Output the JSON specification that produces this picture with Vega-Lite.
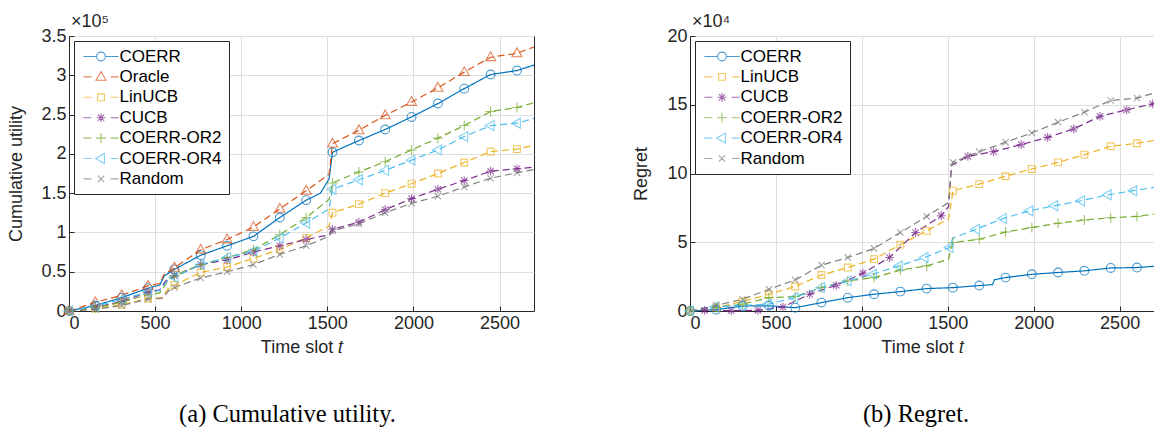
{
  "$schema": "https://vega.github.io/schema/vega-lite/v6.json",
  "padding": {"left": 6, "top": 12, "right": 0, "bottom": 0},
  "autosize": {"type": "pad"},
  "background": "white",
  "spacing": 156,
  "bounds": "flush",
  "resolve": {"scale": {"color": "independent", "shape": "independent", "strokeDash": "independent"}, "legend": {"color": "independent", "shape": "independent"}},
  "config": {
    "font": "Liberation Sans",
    "view": {"stroke": "#262626", "strokeWidth": 1},
    "axis": {
      "grid": true, "gridColor": "#dedede", "gridWidth": 1, "labelOverlap": false,
      "domainColor": "#262626", "tickColor": "#262626", "tickSize": -5,
      "labelFont": "Liberation Sans", "labelFontSize": 18, "labelColor": "#262626", "labelPadding": 8,
      "titleFont": "Liberation Sans", "titleFontSize": 18, "titleFontWeight": "normal", "titleColor": "#262626"
    },
    "legend": {
      "orient": "top-left", "offset": 5, "padding": 7, "rowPadding": 2.4,
      "fillColor": "white", "strokeColor": "#262626", "strokeWidth": 1, "cornerRadius": 0,
      "labelFont": "Liberation Sans", "labelFontSize": 17, "labelColor": "black",
      "symbolSize": 64, "symbolStrokeWidth": 1.1, "symbolOffset": 11.5, "labelOffset": 10
    }
  },
  "datasets": {
    "utility": [
      {"algorithm": "COERR", "t": 0, "value": 0}, {"algorithm": "COERR", "t": 153, "value": 0.07}, {"algorithm": "COERR", "t": 306, "value": 0.17}, {"algorithm": "COERR", "t": 459, "value": 0.29}, {"algorithm": "COERR", "t": 527, "value": 0.33}, {"algorithm": "COERR", "t": 553, "value": 0.445}, {"algorithm": "COERR", "t": 612, "value": 0.53}, {"algorithm": "COERR", "t": 765, "value": 0.71}, {"algorithm": "COERR", "t": 918, "value": 0.83}, {"algorithm": "COERR", "t": 1071, "value": 0.95}, {"algorithm": "COERR", "t": 1224, "value": 1.19}, {"algorithm": "COERR", "t": 1377, "value": 1.41}, {"algorithm": "COERR", "t": 1460, "value": 1.5}, {"algorithm": "COERR", "t": 1510, "value": 1.68}, {"algorithm": "COERR", "t": 1530, "value": 2.02}, {"algorithm": "COERR", "t": 1683, "value": 2.17}, {"algorithm": "COERR", "t": 1836, "value": 2.31}, {"algorithm": "COERR", "t": 1989, "value": 2.47}, {"algorithm": "COERR", "t": 2142, "value": 2.64}, {"algorithm": "COERR", "t": 2295, "value": 2.83}, {"algorithm": "COERR", "t": 2448, "value": 3.01}, {"algorithm": "COERR", "t": 2601, "value": 3.06}, {"algorithm": "COERR", "t": 2700, "value": 3.13},
      {"algorithm": "Oracle", "t": 0, "value": 0}, {"algorithm": "Oracle", "t": 153, "value": 0.11}, {"algorithm": "Oracle", "t": 306, "value": 0.2}, {"algorithm": "Oracle", "t": 459, "value": 0.32}, {"algorithm": "Oracle", "t": 527, "value": 0.35}, {"algorithm": "Oracle", "t": 553, "value": 0.47}, {"algorithm": "Oracle", "t": 612, "value": 0.55}, {"algorithm": "Oracle", "t": 765, "value": 0.78}, {"algorithm": "Oracle", "t": 918, "value": 0.91}, {"algorithm": "Oracle", "t": 1071, "value": 1.07}, {"algorithm": "Oracle", "t": 1224, "value": 1.3}, {"algorithm": "Oracle", "t": 1377, "value": 1.53}, {"algorithm": "Oracle", "t": 1510, "value": 1.74}, {"algorithm": "Oracle", "t": 1530, "value": 2.13}, {"algorithm": "Oracle", "t": 1683, "value": 2.3}, {"algorithm": "Oracle", "t": 1836, "value": 2.49}, {"algorithm": "Oracle", "t": 1989, "value": 2.66}, {"algorithm": "Oracle", "t": 2142, "value": 2.84}, {"algorithm": "Oracle", "t": 2295, "value": 3.04}, {"algorithm": "Oracle", "t": 2448, "value": 3.23}, {"algorithm": "Oracle", "t": 2601, "value": 3.28}, {"algorithm": "Oracle", "t": 2700, "value": 3.36},
      {"algorithm": "LinUCB", "t": 0, "value": 0}, {"algorithm": "LinUCB", "t": 153, "value": 0.03}, {"algorithm": "LinUCB", "t": 306, "value": 0.08}, {"algorithm": "LinUCB", "t": 459, "value": 0.16}, {"algorithm": "LinUCB", "t": 540, "value": 0.17}, {"algorithm": "LinUCB", "t": 575, "value": 0.28}, {"algorithm": "LinUCB", "t": 612, "value": 0.33}, {"algorithm": "LinUCB", "t": 765, "value": 0.49}, {"algorithm": "LinUCB", "t": 918, "value": 0.56}, {"algorithm": "LinUCB", "t": 1071, "value": 0.67}, {"algorithm": "LinUCB", "t": 1224, "value": 0.785}, {"algorithm": "LinUCB", "t": 1377, "value": 0.93}, {"algorithm": "LinUCB", "t": 1510, "value": 1.08}, {"algorithm": "LinUCB", "t": 1530, "value": 1.25}, {"algorithm": "LinUCB", "t": 1683, "value": 1.36}, {"algorithm": "LinUCB", "t": 1836, "value": 1.5}, {"algorithm": "LinUCB", "t": 1989, "value": 1.62}, {"algorithm": "LinUCB", "t": 2142, "value": 1.75}, {"algorithm": "LinUCB", "t": 2295, "value": 1.89}, {"algorithm": "LinUCB", "t": 2448, "value": 2.03}, {"algorithm": "LinUCB", "t": 2601, "value": 2.06}, {"algorithm": "LinUCB", "t": 2700, "value": 2.11},
      {"algorithm": "CUCB", "t": 0, "value": 0}, {"algorithm": "CUCB", "t": 153, "value": 0.05}, {"algorithm": "CUCB", "t": 306, "value": 0.12}, {"algorithm": "CUCB", "t": 459, "value": 0.24}, {"algorithm": "CUCB", "t": 527, "value": 0.27}, {"algorithm": "CUCB", "t": 560, "value": 0.38}, {"algorithm": "CUCB", "t": 612, "value": 0.45}, {"algorithm": "CUCB", "t": 765, "value": 0.59}, {"algorithm": "CUCB", "t": 918, "value": 0.65}, {"algorithm": "CUCB", "t": 1071, "value": 0.75}, {"algorithm": "CUCB", "t": 1224, "value": 0.83}, {"algorithm": "CUCB", "t": 1377, "value": 0.91}, {"algorithm": "CUCB", "t": 1510, "value": 0.97}, {"algorithm": "CUCB", "t": 1530, "value": 1.04}, {"algorithm": "CUCB", "t": 1683, "value": 1.13}, {"algorithm": "CUCB", "t": 1836, "value": 1.29}, {"algorithm": "CUCB", "t": 1989, "value": 1.43}, {"algorithm": "CUCB", "t": 2142, "value": 1.55}, {"algorithm": "CUCB", "t": 2295, "value": 1.66}, {"algorithm": "CUCB", "t": 2448, "value": 1.78}, {"algorithm": "CUCB", "t": 2601, "value": 1.81}, {"algorithm": "CUCB", "t": 2700, "value": 1.83},
      {"algorithm": "COERR-OR2", "t": 0, "value": 0}, {"algorithm": "COERR-OR2", "t": 153, "value": 0.04}, {"algorithm": "COERR-OR2", "t": 306, "value": 0.11}, {"algorithm": "COERR-OR2", "t": 459, "value": 0.21}, {"algorithm": "COERR-OR2", "t": 527, "value": 0.23}, {"algorithm": "COERR-OR2", "t": 580, "value": 0.4}, {"algorithm": "COERR-OR2", "t": 612, "value": 0.45}, {"algorithm": "COERR-OR2", "t": 765, "value": 0.59}, {"algorithm": "COERR-OR2", "t": 918, "value": 0.68}, {"algorithm": "COERR-OR2", "t": 1071, "value": 0.78}, {"algorithm": "COERR-OR2", "t": 1224, "value": 0.97}, {"algorithm": "COERR-OR2", "t": 1377, "value": 1.19}, {"algorithm": "COERR-OR2", "t": 1510, "value": 1.42}, {"algorithm": "COERR-OR2", "t": 1530, "value": 1.63}, {"algorithm": "COERR-OR2", "t": 1683, "value": 1.77}, {"algorithm": "COERR-OR2", "t": 1836, "value": 1.9}, {"algorithm": "COERR-OR2", "t": 1989, "value": 2.05}, {"algorithm": "COERR-OR2", "t": 2142, "value": 2.2}, {"algorithm": "COERR-OR2", "t": 2295, "value": 2.36}, {"algorithm": "COERR-OR2", "t": 2448, "value": 2.54}, {"algorithm": "COERR-OR2", "t": 2601, "value": 2.59}, {"algorithm": "COERR-OR2", "t": 2700, "value": 2.65},
      {"algorithm": "COERR-OR4", "t": 0, "value": 0}, {"algorithm": "COERR-OR4", "t": 153, "value": 0.06}, {"algorithm": "COERR-OR4", "t": 306, "value": 0.15}, {"algorithm": "COERR-OR4", "t": 459, "value": 0.24}, {"algorithm": "COERR-OR4", "t": 527, "value": 0.26}, {"algorithm": "COERR-OR4", "t": 570, "value": 0.38}, {"algorithm": "COERR-OR4", "t": 612, "value": 0.43}, {"algorithm": "COERR-OR4", "t": 765, "value": 0.59}, {"algorithm": "COERR-OR4", "t": 918, "value": 0.68}, {"algorithm": "COERR-OR4", "t": 1071, "value": 0.76}, {"algorithm": "COERR-OR4", "t": 1224, "value": 0.93}, {"algorithm": "COERR-OR4", "t": 1377, "value": 1.12}, {"algorithm": "COERR-OR4", "t": 1510, "value": 1.3}, {"algorithm": "COERR-OR4", "t": 1530, "value": 1.55}, {"algorithm": "COERR-OR4", "t": 1683, "value": 1.67}, {"algorithm": "COERR-OR4", "t": 1836, "value": 1.79}, {"algorithm": "COERR-OR4", "t": 1989, "value": 1.92}, {"algorithm": "COERR-OR4", "t": 2142, "value": 2.05}, {"algorithm": "COERR-OR4", "t": 2295, "value": 2.22}, {"algorithm": "COERR-OR4", "t": 2448, "value": 2.36}, {"algorithm": "COERR-OR4", "t": 2601, "value": 2.39}, {"algorithm": "COERR-OR4", "t": 2700, "value": 2.45},
      {"algorithm": "Random", "t": 0, "value": 0}, {"algorithm": "Random", "t": 153, "value": 0.02}, {"algorithm": "Random", "t": 306, "value": 0.07}, {"algorithm": "Random", "t": 459, "value": 0.15}, {"algorithm": "Random", "t": 540, "value": 0.16}, {"algorithm": "Random", "t": 580, "value": 0.26}, {"algorithm": "Random", "t": 612, "value": 0.3}, {"algorithm": "Random", "t": 765, "value": 0.42}, {"algorithm": "Random", "t": 918, "value": 0.5}, {"algorithm": "Random", "t": 1071, "value": 0.59}, {"algorithm": "Random", "t": 1224, "value": 0.72}, {"algorithm": "Random", "t": 1377, "value": 0.83}, {"algorithm": "Random", "t": 1510, "value": 0.95}, {"algorithm": "Random", "t": 1530, "value": 1.02}, {"algorithm": "Random", "t": 1683, "value": 1.11}, {"algorithm": "Random", "t": 1836, "value": 1.25}, {"algorithm": "Random", "t": 1989, "value": 1.37}, {"algorithm": "Random", "t": 2142, "value": 1.46}, {"algorithm": "Random", "t": 2295, "value": 1.58}, {"algorithm": "Random", "t": 2448, "value": 1.69}, {"algorithm": "Random", "t": 2601, "value": 1.76}, {"algorithm": "Random", "t": 2700, "value": 1.8}
    ],
    "utilityMarkers": [
      {"algorithm": "COERR", "t": 0, "value": 0}, {"algorithm": "COERR", "t": 153, "value": 0.07}, {"algorithm": "COERR", "t": 306, "value": 0.17}, {"algorithm": "COERR", "t": 459, "value": 0.29}, {"algorithm": "COERR", "t": 612, "value": 0.53}, {"algorithm": "COERR", "t": 765, "value": 0.71}, {"algorithm": "COERR", "t": 918, "value": 0.83}, {"algorithm": "COERR", "t": 1071, "value": 0.95}, {"algorithm": "COERR", "t": 1224, "value": 1.19}, {"algorithm": "COERR", "t": 1377, "value": 1.41}, {"algorithm": "COERR", "t": 1530, "value": 2.02}, {"algorithm": "COERR", "t": 1683, "value": 2.17}, {"algorithm": "COERR", "t": 1836, "value": 2.31}, {"algorithm": "COERR", "t": 1989, "value": 2.47}, {"algorithm": "COERR", "t": 2142, "value": 2.64}, {"algorithm": "COERR", "t": 2295, "value": 2.83}, {"algorithm": "COERR", "t": 2448, "value": 3.01}, {"algorithm": "COERR", "t": 2601, "value": 3.06},
      {"algorithm": "Oracle", "t": 0, "value": 0}, {"algorithm": "Oracle", "t": 153, "value": 0.11}, {"algorithm": "Oracle", "t": 306, "value": 0.2}, {"algorithm": "Oracle", "t": 459, "value": 0.32}, {"algorithm": "Oracle", "t": 612, "value": 0.55}, {"algorithm": "Oracle", "t": 765, "value": 0.78}, {"algorithm": "Oracle", "t": 918, "value": 0.91}, {"algorithm": "Oracle", "t": 1071, "value": 1.07}, {"algorithm": "Oracle", "t": 1224, "value": 1.3}, {"algorithm": "Oracle", "t": 1377, "value": 1.53}, {"algorithm": "Oracle", "t": 1530, "value": 2.13}, {"algorithm": "Oracle", "t": 1683, "value": 2.3}, {"algorithm": "Oracle", "t": 1836, "value": 2.49}, {"algorithm": "Oracle", "t": 1989, "value": 2.66}, {"algorithm": "Oracle", "t": 2142, "value": 2.84}, {"algorithm": "Oracle", "t": 2295, "value": 3.04}, {"algorithm": "Oracle", "t": 2448, "value": 3.23}, {"algorithm": "Oracle", "t": 2601, "value": 3.28},
      {"algorithm": "LinUCB", "t": 0, "value": 0}, {"algorithm": "LinUCB", "t": 153, "value": 0.03}, {"algorithm": "LinUCB", "t": 306, "value": 0.08}, {"algorithm": "LinUCB", "t": 459, "value": 0.16}, {"algorithm": "LinUCB", "t": 612, "value": 0.33}, {"algorithm": "LinUCB", "t": 765, "value": 0.49}, {"algorithm": "LinUCB", "t": 918, "value": 0.56}, {"algorithm": "LinUCB", "t": 1071, "value": 0.67}, {"algorithm": "LinUCB", "t": 1224, "value": 0.785}, {"algorithm": "LinUCB", "t": 1377, "value": 0.93}, {"algorithm": "LinUCB", "t": 1530, "value": 1.25}, {"algorithm": "LinUCB", "t": 1683, "value": 1.36}, {"algorithm": "LinUCB", "t": 1836, "value": 1.5}, {"algorithm": "LinUCB", "t": 1989, "value": 1.62}, {"algorithm": "LinUCB", "t": 2142, "value": 1.75}, {"algorithm": "LinUCB", "t": 2295, "value": 1.89}, {"algorithm": "LinUCB", "t": 2448, "value": 2.03}, {"algorithm": "LinUCB", "t": 2601, "value": 2.06},
      {"algorithm": "CUCB", "t": 0, "value": 0}, {"algorithm": "CUCB", "t": 153, "value": 0.05}, {"algorithm": "CUCB", "t": 306, "value": 0.12}, {"algorithm": "CUCB", "t": 459, "value": 0.24}, {"algorithm": "CUCB", "t": 612, "value": 0.45}, {"algorithm": "CUCB", "t": 765, "value": 0.59}, {"algorithm": "CUCB", "t": 918, "value": 0.65}, {"algorithm": "CUCB", "t": 1071, "value": 0.75}, {"algorithm": "CUCB", "t": 1224, "value": 0.83}, {"algorithm": "CUCB", "t": 1377, "value": 0.91}, {"algorithm": "CUCB", "t": 1530, "value": 1.04}, {"algorithm": "CUCB", "t": 1683, "value": 1.13}, {"algorithm": "CUCB", "t": 1836, "value": 1.29}, {"algorithm": "CUCB", "t": 1989, "value": 1.43}, {"algorithm": "CUCB", "t": 2142, "value": 1.55}, {"algorithm": "CUCB", "t": 2295, "value": 1.66}, {"algorithm": "CUCB", "t": 2448, "value": 1.78}, {"algorithm": "CUCB", "t": 2601, "value": 1.81},
      {"algorithm": "COERR-OR2", "t": 0, "value": 0}, {"algorithm": "COERR-OR2", "t": 153, "value": 0.04}, {"algorithm": "COERR-OR2", "t": 306, "value": 0.11}, {"algorithm": "COERR-OR2", "t": 459, "value": 0.21}, {"algorithm": "COERR-OR2", "t": 612, "value": 0.45}, {"algorithm": "COERR-OR2", "t": 765, "value": 0.59}, {"algorithm": "COERR-OR2", "t": 918, "value": 0.68}, {"algorithm": "COERR-OR2", "t": 1071, "value": 0.78}, {"algorithm": "COERR-OR2", "t": 1224, "value": 0.97}, {"algorithm": "COERR-OR2", "t": 1377, "value": 1.19}, {"algorithm": "COERR-OR2", "t": 1530, "value": 1.63}, {"algorithm": "COERR-OR2", "t": 1683, "value": 1.77}, {"algorithm": "COERR-OR2", "t": 1836, "value": 1.9}, {"algorithm": "COERR-OR2", "t": 1989, "value": 2.05}, {"algorithm": "COERR-OR2", "t": 2142, "value": 2.2}, {"algorithm": "COERR-OR2", "t": 2295, "value": 2.36}, {"algorithm": "COERR-OR2", "t": 2448, "value": 2.54}, {"algorithm": "COERR-OR2", "t": 2601, "value": 2.59},
      {"algorithm": "COERR-OR4", "t": 0, "value": 0}, {"algorithm": "COERR-OR4", "t": 153, "value": 0.06}, {"algorithm": "COERR-OR4", "t": 306, "value": 0.15}, {"algorithm": "COERR-OR4", "t": 459, "value": 0.24}, {"algorithm": "COERR-OR4", "t": 612, "value": 0.43}, {"algorithm": "COERR-OR4", "t": 765, "value": 0.59}, {"algorithm": "COERR-OR4", "t": 918, "value": 0.68}, {"algorithm": "COERR-OR4", "t": 1071, "value": 0.76}, {"algorithm": "COERR-OR4", "t": 1224, "value": 0.93}, {"algorithm": "COERR-OR4", "t": 1377, "value": 1.12}, {"algorithm": "COERR-OR4", "t": 1530, "value": 1.55}, {"algorithm": "COERR-OR4", "t": 1683, "value": 1.67}, {"algorithm": "COERR-OR4", "t": 1836, "value": 1.79}, {"algorithm": "COERR-OR4", "t": 1989, "value": 1.92}, {"algorithm": "COERR-OR4", "t": 2142, "value": 2.05}, {"algorithm": "COERR-OR4", "t": 2295, "value": 2.22}, {"algorithm": "COERR-OR4", "t": 2448, "value": 2.36}, {"algorithm": "COERR-OR4", "t": 2601, "value": 2.39},
      {"algorithm": "Random", "t": 0, "value": 0}, {"algorithm": "Random", "t": 153, "value": 0.02}, {"algorithm": "Random", "t": 306, "value": 0.07}, {"algorithm": "Random", "t": 459, "value": 0.15}, {"algorithm": "Random", "t": 612, "value": 0.3}, {"algorithm": "Random", "t": 765, "value": 0.42}, {"algorithm": "Random", "t": 918, "value": 0.5}, {"algorithm": "Random", "t": 1071, "value": 0.59}, {"algorithm": "Random", "t": 1224, "value": 0.72}, {"algorithm": "Random", "t": 1377, "value": 0.83}, {"algorithm": "Random", "t": 1530, "value": 1.02}, {"algorithm": "Random", "t": 1683, "value": 1.11}, {"algorithm": "Random", "t": 1836, "value": 1.25}, {"algorithm": "Random", "t": 1989, "value": 1.37}, {"algorithm": "Random", "t": 2142, "value": 1.46}, {"algorithm": "Random", "t": 2295, "value": 1.58}, {"algorithm": "Random", "t": 2448, "value": 1.69}, {"algorithm": "Random", "t": 2601, "value": 1.76}
    ],
    "regret": [
      {"algorithm": "COERR", "t": 0, "value": 0}, {"algorithm": "COERR", "t": 153, "value": 0.1}, {"algorithm": "COERR", "t": 306, "value": 0.36}, {"algorithm": "COERR", "t": 459, "value": 0.38}, {"algorithm": "COERR", "t": 612, "value": 0.24}, {"algorithm": "COERR", "t": 765, "value": 0.61}, {"algorithm": "COERR", "t": 918, "value": 0.97}, {"algorithm": "COERR", "t": 1071, "value": 1.22}, {"algorithm": "COERR", "t": 1224, "value": 1.41}, {"algorithm": "COERR", "t": 1377, "value": 1.63}, {"algorithm": "COERR", "t": 1530, "value": 1.7}, {"algorithm": "COERR", "t": 1683, "value": 1.85}, {"algorithm": "COERR", "t": 1760, "value": 1.92}, {"algorithm": "COERR", "t": 1772, "value": 2.28}, {"algorithm": "COERR", "t": 1836, "value": 2.43}, {"algorithm": "COERR", "t": 1989, "value": 2.67}, {"algorithm": "COERR", "t": 2142, "value": 2.8}, {"algorithm": "COERR", "t": 2295, "value": 2.92}, {"algorithm": "COERR", "t": 2448, "value": 3.13}, {"algorithm": "COERR", "t": 2601, "value": 3.16}, {"algorithm": "COERR", "t": 2700, "value": 3.25},
      {"algorithm": "LinUCB", "t": 0, "value": 0}, {"algorithm": "LinUCB", "t": 153, "value": 0.25}, {"algorithm": "LinUCB", "t": 306, "value": 0.7}, {"algorithm": "LinUCB", "t": 459, "value": 1.22}, {"algorithm": "LinUCB", "t": 612, "value": 1.78}, {"algorithm": "LinUCB", "t": 765, "value": 2.62}, {"algorithm": "LinUCB", "t": 918, "value": 3.16}, {"algorithm": "LinUCB", "t": 1071, "value": 3.77}, {"algorithm": "LinUCB", "t": 1224, "value": 4.83}, {"algorithm": "LinUCB", "t": 1377, "value": 5.83}, {"algorithm": "LinUCB", "t": 1505, "value": 6.7}, {"algorithm": "LinUCB", "t": 1520, "value": 7.9}, {"algorithm": "LinUCB", "t": 1530, "value": 8.75}, {"algorithm": "LinUCB", "t": 1683, "value": 9.23}, {"algorithm": "LinUCB", "t": 1836, "value": 9.8}, {"algorithm": "LinUCB", "t": 1989, "value": 10.33}, {"algorithm": "LinUCB", "t": 2142, "value": 10.81}, {"algorithm": "LinUCB", "t": 2295, "value": 11.37}, {"algorithm": "LinUCB", "t": 2448, "value": 11.98}, {"algorithm": "LinUCB", "t": 2601, "value": 12.2}, {"algorithm": "LinUCB", "t": 2700, "value": 12.4},
      {"algorithm": "CUCB", "t": 0, "value": 0}, {"algorithm": "CUCB", "t": 85, "value": 0.05}, {"algorithm": "CUCB", "t": 240, "value": 0.02}, {"algorithm": "CUCB", "t": 395, "value": 0.05}, {"algorithm": "CUCB", "t": 541, "value": 0.29}, {"algorithm": "CUCB", "t": 696, "value": 1.22}, {"algorithm": "CUCB", "t": 851, "value": 1.87}, {"algorithm": "CUCB", "t": 1006, "value": 2.75}, {"algorithm": "CUCB", "t": 1161, "value": 3.89}, {"algorithm": "CUCB", "t": 1313, "value": 5.71}, {"algorithm": "CUCB", "t": 1462, "value": 6.93}, {"algorithm": "CUCB", "t": 1505, "value": 7.6}, {"algorithm": "CUCB", "t": 1522, "value": 10.6}, {"algorithm": "CUCB", "t": 1617, "value": 11.25}, {"algorithm": "CUCB", "t": 1766, "value": 11.59}, {"algorithm": "CUCB", "t": 1927, "value": 12.1}, {"algorithm": "CUCB", "t": 2081, "value": 12.63}, {"algorithm": "CUCB", "t": 2233, "value": 13.24}, {"algorithm": "CUCB", "t": 2386, "value": 14.16}, {"algorithm": "CUCB", "t": 2541, "value": 14.63}, {"algorithm": "CUCB", "t": 2692, "value": 15.06}, {"algorithm": "CUCB", "t": 2700, "value": 15.08},
      {"algorithm": "COERR-OR2", "t": 0, "value": 0}, {"algorithm": "COERR-OR2", "t": 153, "value": 0.25}, {"algorithm": "COERR-OR2", "t": 306, "value": 0.5}, {"algorithm": "COERR-OR2", "t": 459, "value": 0.97}, {"algorithm": "COERR-OR2", "t": 612, "value": 1.05}, {"algorithm": "COERR-OR2", "t": 765, "value": 1.7}, {"algorithm": "COERR-OR2", "t": 918, "value": 2.19}, {"algorithm": "COERR-OR2", "t": 1071, "value": 2.43}, {"algorithm": "COERR-OR2", "t": 1224, "value": 2.97}, {"algorithm": "COERR-OR2", "t": 1377, "value": 3.28}, {"algorithm": "COERR-OR2", "t": 1505, "value": 3.77}, {"algorithm": "COERR-OR2", "t": 1520, "value": 4.6}, {"algorithm": "COERR-OR2", "t": 1530, "value": 4.98}, {"algorithm": "COERR-OR2", "t": 1683, "value": 5.22}, {"algorithm": "COERR-OR2", "t": 1836, "value": 5.74}, {"algorithm": "COERR-OR2", "t": 1989, "value": 6.07}, {"algorithm": "COERR-OR2", "t": 2142, "value": 6.38}, {"algorithm": "COERR-OR2", "t": 2295, "value": 6.62}, {"algorithm": "COERR-OR2", "t": 2448, "value": 6.78}, {"algorithm": "COERR-OR2", "t": 2601, "value": 6.88}, {"algorithm": "COERR-OR2", "t": 2700, "value": 7.05},
      {"algorithm": "COERR-OR4", "t": 0, "value": 0}, {"algorithm": "COERR-OR4", "t": 145, "value": 0.3}, {"algorithm": "COERR-OR4", "t": 299, "value": 0.41}, {"algorithm": "COERR-OR4", "t": 453, "value": 0.49}, {"algorithm": "COERR-OR4", "t": 608, "value": 0.97}, {"algorithm": "COERR-OR4", "t": 763, "value": 1.7}, {"algorithm": "COERR-OR4", "t": 918, "value": 2.19}, {"algorithm": "COERR-OR4", "t": 1065, "value": 2.68}, {"algorithm": "COERR-OR4", "t": 1215, "value": 3.28}, {"algorithm": "COERR-OR4", "t": 1365, "value": 3.89}, {"algorithm": "COERR-OR4", "t": 1510, "value": 4.62}, {"algorithm": "COERR-OR4", "t": 1528, "value": 5.3}, {"algorithm": "COERR-OR4", "t": 1665, "value": 5.95}, {"algorithm": "COERR-OR4", "t": 1820, "value": 6.72}, {"algorithm": "COERR-OR4", "t": 1975, "value": 7.29}, {"algorithm": "COERR-OR4", "t": 2120, "value": 7.65}, {"algorithm": "COERR-OR4", "t": 2276, "value": 8.02}, {"algorithm": "COERR-OR4", "t": 2431, "value": 8.45}, {"algorithm": "COERR-OR4", "t": 2580, "value": 8.75}, {"algorithm": "COERR-OR4", "t": 2700, "value": 8.99},
      {"algorithm": "Random", "t": 0, "value": 0}, {"algorithm": "Random", "t": 153, "value": 0.41}, {"algorithm": "Random", "t": 306, "value": 0.85}, {"algorithm": "Random", "t": 459, "value": 1.58}, {"algorithm": "Random", "t": 612, "value": 2.26}, {"algorithm": "Random", "t": 765, "value": 3.33}, {"algorithm": "Random", "t": 918, "value": 3.89}, {"algorithm": "Random", "t": 1071, "value": 4.55}, {"algorithm": "Random", "t": 1224, "value": 5.71}, {"algorithm": "Random", "t": 1377, "value": 6.88}, {"algorithm": "Random", "t": 1505, "value": 7.9}, {"algorithm": "Random", "t": 1520, "value": 10.4}, {"algorithm": "Random", "t": 1530, "value": 10.82}, {"algorithm": "Random", "t": 1683, "value": 11.59}, {"algorithm": "Random", "t": 1836, "value": 12.27}, {"algorithm": "Random", "t": 1989, "value": 12.95}, {"algorithm": "Random", "t": 2142, "value": 13.73}, {"algorithm": "Random", "t": 2295, "value": 14.46}, {"algorithm": "Random", "t": 2448, "value": 15.31}, {"algorithm": "Random", "t": 2601, "value": 15.48}, {"algorithm": "Random", "t": 2700, "value": 15.85}
    ],
    "regretMarkers": [
      {"algorithm": "COERR", "t": 0, "value": 0}, {"algorithm": "COERR", "t": 153, "value": 0.1}, {"algorithm": "COERR", "t": 306, "value": 0.36}, {"algorithm": "COERR", "t": 459, "value": 0.38}, {"algorithm": "COERR", "t": 612, "value": 0.24}, {"algorithm": "COERR", "t": 765, "value": 0.61}, {"algorithm": "COERR", "t": 918, "value": 0.97}, {"algorithm": "COERR", "t": 1071, "value": 1.22}, {"algorithm": "COERR", "t": 1224, "value": 1.41}, {"algorithm": "COERR", "t": 1377, "value": 1.63}, {"algorithm": "COERR", "t": 1530, "value": 1.7}, {"algorithm": "COERR", "t": 1683, "value": 1.85}, {"algorithm": "COERR", "t": 1836, "value": 2.43}, {"algorithm": "COERR", "t": 1989, "value": 2.67}, {"algorithm": "COERR", "t": 2142, "value": 2.8}, {"algorithm": "COERR", "t": 2295, "value": 2.92}, {"algorithm": "COERR", "t": 2448, "value": 3.13}, {"algorithm": "COERR", "t": 2601, "value": 3.16},
      {"algorithm": "LinUCB", "t": 0, "value": 0}, {"algorithm": "LinUCB", "t": 153, "value": 0.25}, {"algorithm": "LinUCB", "t": 306, "value": 0.7}, {"algorithm": "LinUCB", "t": 459, "value": 1.22}, {"algorithm": "LinUCB", "t": 612, "value": 1.78}, {"algorithm": "LinUCB", "t": 765, "value": 2.62}, {"algorithm": "LinUCB", "t": 918, "value": 3.16}, {"algorithm": "LinUCB", "t": 1071, "value": 3.77}, {"algorithm": "LinUCB", "t": 1224, "value": 4.83}, {"algorithm": "LinUCB", "t": 1377, "value": 5.83}, {"algorithm": "LinUCB", "t": 1530, "value": 8.75}, {"algorithm": "LinUCB", "t": 1683, "value": 9.23}, {"algorithm": "LinUCB", "t": 1836, "value": 9.8}, {"algorithm": "LinUCB", "t": 1989, "value": 10.33}, {"algorithm": "LinUCB", "t": 2142, "value": 10.81}, {"algorithm": "LinUCB", "t": 2295, "value": 11.37}, {"algorithm": "LinUCB", "t": 2448, "value": 11.98}, {"algorithm": "LinUCB", "t": 2601, "value": 12.2},
      {"algorithm": "CUCB", "t": 85, "value": 0.05}, {"algorithm": "CUCB", "t": 240, "value": 0.02}, {"algorithm": "CUCB", "t": 395, "value": 0.05}, {"algorithm": "CUCB", "t": 541, "value": 0.29}, {"algorithm": "CUCB", "t": 696, "value": 1.22}, {"algorithm": "CUCB", "t": 851, "value": 1.87}, {"algorithm": "CUCB", "t": 1006, "value": 2.75}, {"algorithm": "CUCB", "t": 1161, "value": 3.89}, {"algorithm": "CUCB", "t": 1313, "value": 5.71}, {"algorithm": "CUCB", "t": 1462, "value": 6.93}, {"algorithm": "CUCB", "t": 1617, "value": 11.25}, {"algorithm": "CUCB", "t": 1766, "value": 11.59}, {"algorithm": "CUCB", "t": 1927, "value": 12.1}, {"algorithm": "CUCB", "t": 2081, "value": 12.63}, {"algorithm": "CUCB", "t": 2233, "value": 13.24}, {"algorithm": "CUCB", "t": 2386, "value": 14.16}, {"algorithm": "CUCB", "t": 2541, "value": 14.63}, {"algorithm": "CUCB", "t": 2692, "value": 15.06},
      {"algorithm": "COERR-OR2", "t": 0, "value": 0}, {"algorithm": "COERR-OR2", "t": 153, "value": 0.25}, {"algorithm": "COERR-OR2", "t": 306, "value": 0.5}, {"algorithm": "COERR-OR2", "t": 459, "value": 0.97}, {"algorithm": "COERR-OR2", "t": 612, "value": 1.05}, {"algorithm": "COERR-OR2", "t": 765, "value": 1.7}, {"algorithm": "COERR-OR2", "t": 918, "value": 2.19}, {"algorithm": "COERR-OR2", "t": 1071, "value": 2.43}, {"algorithm": "COERR-OR2", "t": 1224, "value": 2.97}, {"algorithm": "COERR-OR2", "t": 1377, "value": 3.28}, {"algorithm": "COERR-OR2", "t": 1530, "value": 4.98}, {"algorithm": "COERR-OR2", "t": 1683, "value": 5.22}, {"algorithm": "COERR-OR2", "t": 1836, "value": 5.74}, {"algorithm": "COERR-OR2", "t": 1989, "value": 6.07}, {"algorithm": "COERR-OR2", "t": 2142, "value": 6.38}, {"algorithm": "COERR-OR2", "t": 2295, "value": 6.62}, {"algorithm": "COERR-OR2", "t": 2448, "value": 6.78}, {"algorithm": "COERR-OR2", "t": 2601, "value": 6.88},
      {"algorithm": "COERR-OR4", "t": 0, "value": 0}, {"algorithm": "COERR-OR4", "t": 145, "value": 0.3}, {"algorithm": "COERR-OR4", "t": 299, "value": 0.41}, {"algorithm": "COERR-OR4", "t": 453, "value": 0.49}, {"algorithm": "COERR-OR4", "t": 608, "value": 0.97}, {"algorithm": "COERR-OR4", "t": 763, "value": 1.7}, {"algorithm": "COERR-OR4", "t": 918, "value": 2.19}, {"algorithm": "COERR-OR4", "t": 1065, "value": 2.68}, {"algorithm": "COERR-OR4", "t": 1215, "value": 3.28}, {"algorithm": "COERR-OR4", "t": 1365, "value": 3.89}, {"algorithm": "COERR-OR4", "t": 1510, "value": 4.62}, {"algorithm": "COERR-OR4", "t": 1665, "value": 5.95}, {"algorithm": "COERR-OR4", "t": 1820, "value": 6.72}, {"algorithm": "COERR-OR4", "t": 1975, "value": 7.29}, {"algorithm": "COERR-OR4", "t": 2120, "value": 7.65}, {"algorithm": "COERR-OR4", "t": 2276, "value": 8.02}, {"algorithm": "COERR-OR4", "t": 2431, "value": 8.45}, {"algorithm": "COERR-OR4", "t": 2580, "value": 8.75},
      {"algorithm": "Random", "t": 0, "value": 0}, {"algorithm": "Random", "t": 153, "value": 0.41}, {"algorithm": "Random", "t": 306, "value": 0.85}, {"algorithm": "Random", "t": 459, "value": 1.58}, {"algorithm": "Random", "t": 612, "value": 2.26}, {"algorithm": "Random", "t": 765, "value": 3.33}, {"algorithm": "Random", "t": 918, "value": 3.89}, {"algorithm": "Random", "t": 1071, "value": 4.55}, {"algorithm": "Random", "t": 1224, "value": 5.71}, {"algorithm": "Random", "t": 1377, "value": 6.88}, {"algorithm": "Random", "t": 1530, "value": 10.82}, {"algorithm": "Random", "t": 1683, "value": 11.59}, {"algorithm": "Random", "t": 1836, "value": 12.27}, {"algorithm": "Random", "t": 1989, "value": 12.95}, {"algorithm": "Random", "t": 2142, "value": 13.73}, {"algorithm": "Random", "t": 2295, "value": 14.46}, {"algorithm": "Random", "t": 2448, "value": 15.31}, {"algorithm": "Random", "t": 2601, "value": 15.48}
    ]
  },
  "hconcat": [
    {
      "width": 465, "height": 275,
      "title": {"text": "(a) Cumulative utility.", "orient": "bottom", "anchor": "middle", "frame": "group", "dx": -14, "offset": 47, "font": "Liberation Serif", "fontSize": 24.5, "fontWeight": "normal", "color": "black"},
      "resolve": {"scale": {"shape": "independent", "color": "independent"}, "legend": {"shape": "independent", "color": "independent"}},
      "layer": [
        {
          "data": {"name": "utility"},
          "mark": {"type": "line", "strokeWidth": 1.2},
          "encoding": {
            "x": {"field": "t", "type": "quantitative", "scale": {"domain": [0, 2700], "nice": false}, "axis": {"title": "Time slot 𝑡", "values": [0, 500, 1000, 1500, 2000, 2500], "tickCount": 12, "format": "d", "titlePadding": 6}},
            "y": {"field": "value", "type": "quantitative", "scale": {"domain": [0, 3.5], "nice": false}, "axis": {"title": "Cumulative utility", "values": [0, 0.5, 1, 1.5, 2, 2.5, 3, 3.5], "tickCount": 12, "format": "~g", "titlePadding": 15.5}},
            "color": {"field": "algorithm", "type": "nominal", "sort": null, "legend": null,
              "scale": {"domain": ["COERR", "Oracle", "LinUCB", "CUCB", "COERR-OR2", "COERR-OR4", "Random"], "range": ["#0072BD", "#D95319", "#EDB120", "#7E2F8E", "#77AC30", "#4DBEEE", "#808080"]}},
            "strokeDash": {"field": "algorithm", "type": "nominal", "legend": null,
              "scale": {"domain": ["COERR", "Oracle", "LinUCB", "CUCB", "COERR-OR2", "COERR-OR4", "Random"], "range": [[1, 0], [7, 4], [7, 4], [7, 4], [7, 4], [7, 4], [7, 4]]}}
          }
        },
        {
          "data": {"name": "utilityMarkers"},
          "mark": {"type": "point", "filled": false, "size": 64, "strokeWidth": 1.1},
          "encoding": {
            "x": {"field": "t", "type": "quantitative"},
            "y": {"field": "value", "type": "quantitative"},
            "color": {"field": "algorithm", "type": "nominal", "sort": null, "legend": null,
              "scale": {"domain": ["COERR", "Oracle", "LinUCB", "CUCB", "COERR-OR2", "COERR-OR4", "Random"], "range": ["#0072BD", "#D95319", "#EDB120", "#7E2F8E", "#77AC30", "#4DBEEE", "#808080"]}},
            "shape": {"field": "algorithm", "type": "nominal", "legend": null,
              "scale": {"domain": ["COERR", "Oracle", "LinUCB", "CUCB", "COERR-OR2", "COERR-OR4", "Random"],
                "range": ["M1.1,0A1.1,1.1 0 1,1 -1.1,0A1.1,1.1 0 1,1 1.1,0Z", "M0,-1.35L1.25,0.85L-1.25,0.85Z", "M-0.85,-0.85L0.85,-0.85L0.85,0.85L-0.85,0.85Z", "M-1.1,0L1.1,0M0,-1.1L0,1.1M-0.8,-0.8L0.8,0.8M-0.8,0.8L0.8,-0.8", "M-1.25,0L1.25,0M0,-1.25L0,1.25", "M-1.35,0L0.85,-1.25L0.85,1.25Z", "M-0.8,-0.8L0.8,0.8M-0.8,0.8L0.8,-0.8"]}}
          }
        },
        {
          "data": {"values": []},
          "mark": {"type": "point", "filled": false, "size": 64, "strokeWidth": 1.1},
          "encoding": {
            "x": {"field": "t", "type": "quantitative"},
            "y": {"field": "value", "type": "quantitative"},
            "color": {"field": "algorithm", "type": "nominal", "sort": null, "legend": {"title": null},
              "scale": {"domain": ["COERR", "Oracle", "LinUCB", "CUCB", "COERR-OR2", "COERR-OR4", "Random"], "range": ["#0072BD", "#D95319", "#EDB120", "#7E2F8E", "#77AC30", "#4DBEEE", "#808080"]}},
            "shape": {"field": "algorithm", "type": "nominal", "sort": null, "legend": {"title": null},
              "scale": {"domain": ["COERR", "Oracle", "LinUCB", "CUCB", "COERR-OR2", "COERR-OR4", "Random"],
                "range": ["M-4.4,0L-1.1,0M1.1,0L4.4,0M1.1,0A1.1,1.1 0 1,1 -1.1,0A1.1,1.1 0 1,1 1.1,0Z", "M-4.4,0L-2.4,0M2.4,0L4.4,0M0,-1.35L1.25,0.85L-1.25,0.85Z", "M-4.4,0L-2.4,0M2.4,0L4.4,0M-0.85,-0.85L0.85,-0.85L0.85,0.85L-0.85,0.85Z", "M-4.4,0L-2.4,0M2.4,0L4.4,0M-1.1,0L1.1,0M0,-1.1L0,1.1M-0.8,-0.8L0.8,0.8M-0.8,0.8L0.8,-0.8", "M-4.4,0L-2.4,0M2.4,0L4.4,0M-1.25,0L1.25,0M0,-1.25L0,1.25", "M-4.4,0L-2.4,0M2.4,0L4.4,0M-1.35,0L0.85,-1.25L0.85,1.25Z", "M-4.4,0L-2.4,0M2.4,0L4.4,0M-0.8,-0.8L0.8,0.8M-0.8,0.8L0.8,-0.8"]}}
          }
        },
        {
          "data": {"values": [{"label": "×10⁵"}]},
          "mark": {"type": "text", "align": "left", "baseline": "alphabetic", "dx": 2, "dy": -9, "fontSize": 18, "font": "Liberation Sans", "color": "#262626"},
          "encoding": {
            "x": {"datum": 0, "type": "quantitative"},
            "y": {"datum": 3.5, "type": "quantitative"},
            "text": {"field": "label"}
          }
        }
      ]
    },
    {
      "width": 464, "height": 275,
      "title": {"text": "(b) Regret.", "orient": "bottom", "anchor": "middle", "frame": "group", "dx": -6, "offset": 47, "font": "Liberation Serif", "fontSize": 24.5, "fontWeight": "normal", "color": "black"},
      "resolve": {"scale": {"shape": "independent", "color": "independent"}, "legend": {"shape": "independent", "color": "independent"}},
      "layer": [
        {
          "data": {"name": "regret"},
          "mark": {"type": "line", "strokeWidth": 1.2},
          "encoding": {
            "x": {"field": "t", "type": "quantitative", "scale": {"domain": [0, 2700], "nice": false}, "axis": {"title": "Time slot 𝑡", "values": [0, 500, 1000, 1500, 2000, 2500], "tickCount": 12, "format": "d", "titlePadding": 6}},
            "y": {"field": "value", "type": "quantitative", "scale": {"domain": [0, 20], "nice": false}, "axis": {"title": "Regret", "values": [0, 5, 10, 15, 20], "tickCount": 12, "format": "~g", "titlePadding": 16}},
            "color": {"field": "algorithm", "type": "nominal", "sort": null, "legend": null,
              "scale": {"domain": ["COERR", "LinUCB", "CUCB", "COERR-OR2", "COERR-OR4", "Random"], "range": ["#0072BD", "#EDB120", "#7E2F8E", "#77AC30", "#4DBEEE", "#808080"]}},
            "strokeDash": {"field": "algorithm", "type": "nominal", "legend": null,
              "scale": {"domain": ["COERR", "LinUCB", "CUCB", "COERR-OR2", "COERR-OR4", "Random"], "range": [[1, 0], [7, 4], [7, 4], [7, 4], [7, 4], [7, 4]]}}
          }
        },
        {
          "data": {"name": "regretMarkers"},
          "mark": {"type": "point", "filled": false, "size": 64, "strokeWidth": 1.1},
          "encoding": {
            "x": {"field": "t", "type": "quantitative"},
            "y": {"field": "value", "type": "quantitative"},
            "color": {"field": "algorithm", "type": "nominal", "sort": null, "legend": null,
              "scale": {"domain": ["COERR", "LinUCB", "CUCB", "COERR-OR2", "COERR-OR4", "Random"], "range": ["#0072BD", "#EDB120", "#7E2F8E", "#77AC30", "#4DBEEE", "#808080"]}},
            "shape": {"field": "algorithm", "type": "nominal", "legend": null,
              "scale": {"domain": ["COERR", "LinUCB", "CUCB", "COERR-OR2", "COERR-OR4", "Random"],
                "range": ["M1.1,0A1.1,1.1 0 1,1 -1.1,0A1.1,1.1 0 1,1 1.1,0Z", "M-0.85,-0.85L0.85,-0.85L0.85,0.85L-0.85,0.85Z", "M-1.1,0L1.1,0M0,-1.1L0,1.1M-0.8,-0.8L0.8,0.8M-0.8,0.8L0.8,-0.8", "M-1.25,0L1.25,0M0,-1.25L0,1.25", "M-1.35,0L0.85,-1.25L0.85,1.25Z", "M-0.8,-0.8L0.8,0.8M-0.8,0.8L0.8,-0.8"]}}
          }
        },
        {
          "data": {"values": []},
          "mark": {"type": "point", "filled": false, "size": 64, "strokeWidth": 1.1},
          "encoding": {
            "x": {"field": "t", "type": "quantitative"},
            "y": {"field": "value", "type": "quantitative"},
            "color": {"field": "algorithm", "type": "nominal", "sort": null, "legend": {"title": null},
              "scale": {"domain": ["COERR", "LinUCB", "CUCB", "COERR-OR2", "COERR-OR4", "Random"], "range": ["#0072BD", "#EDB120", "#7E2F8E", "#77AC30", "#4DBEEE", "#808080"]}},
            "shape": {"field": "algorithm", "type": "nominal", "sort": null, "legend": {"title": null},
              "scale": {"domain": ["COERR", "LinUCB", "CUCB", "COERR-OR2", "COERR-OR4", "Random"],
                "range": ["M-4.4,0L-1.1,0M1.1,0L4.4,0M1.1,0A1.1,1.1 0 1,1 -1.1,0A1.1,1.1 0 1,1 1.1,0Z", "M-4.4,0L-2.4,0M2.4,0L4.4,0M-0.85,-0.85L0.85,-0.85L0.85,0.85L-0.85,0.85Z", "M-4.4,0L-2.4,0M2.4,0L4.4,0M-1.1,0L1.1,0M0,-1.1L0,1.1M-0.8,-0.8L0.8,0.8M-0.8,0.8L0.8,-0.8", "M-4.4,0L-2.4,0M2.4,0L4.4,0M-1.25,0L1.25,0M0,-1.25L0,1.25", "M-4.4,0L-2.4,0M2.4,0L4.4,0M-1.35,0L0.85,-1.25L0.85,1.25Z", "M-4.4,0L-2.4,0M2.4,0L4.4,0M-0.8,-0.8L0.8,0.8M-0.8,0.8L0.8,-0.8"]}}
          }
        },
        {
          "data": {"values": [{"label": "×10⁴"}]},
          "mark": {"type": "text", "align": "left", "baseline": "alphabetic", "dx": 2, "dy": -9, "fontSize": 18, "font": "Liberation Sans", "color": "#262626"},
          "encoding": {
            "x": {"datum": 0, "type": "quantitative"},
            "y": {"datum": 20, "type": "quantitative"},
            "text": {"field": "label"}
          }
        }
      ]
    }
  ]
}
